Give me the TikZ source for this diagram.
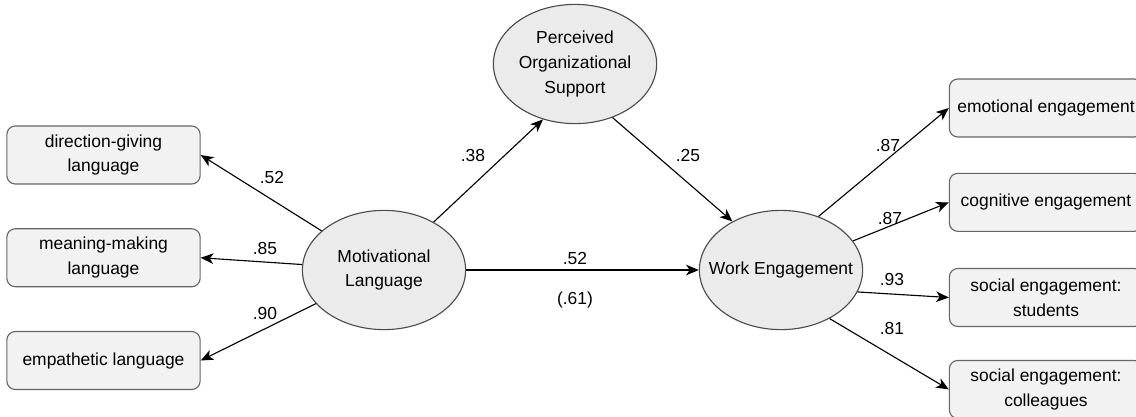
\documentclass[tikz,border=0pt]{standalone}
\usepackage{fontspec}
\setmainfont{Liberation Sans}
\usetikzlibrary{positioning}
\usetikzlibrary{shapes.geometric}
\usetikzlibrary{arrows.meta}

\begin{document}
\begin{tikzpicture}[x=0.025cm, y=-0.025cm,
		every node/.style={font=\fontsize{12.4}{17.7}\selectfont},
		latent/.style={draw=black!70, fill=black!8, ellipse, inner sep=0pt,
			minimum width=4.08cm, minimum height=2.98cm, align=center},
		indicator/.style={draw=black!60, fill=black!5, rounded corners=6pt,
			minimum width=4.83cm, minimum height=1.45cm, align=center},
		coef/.style={inner sep=1pt},
		>={Stealth[length=9pt, width=7.5pt, inset=2.5pt]},
		line width=0.8pt]
		\useasboundingbox (0,0) rectangle (1136,416);
		% latent variables
		\node [latent] (ml) at (384,270) {Motivational\\Language};
		\node [latent] (pos) at (575,64) {Perceived\\Organizational\\Support};
		\node [latent, inner xsep=-11pt] (we) at (781,270) {Work Engagement};
		% indicators of motivational language
		\node [indicator] (dir) at (103.5,155) {direction-giving\\language};
		\node [indicator, below=1.09cm of dir] (mean) {meaning-making\\language};
		\node [indicator, below=1.09cm of mean] (emp) {empathetic language};
		% indicators of work engagement
		\node [indicator] (emo) at (1046,108) {emotional engagement};
		\node [indicator, below=0.88cm of emo] (cog) {cognitive engagement};
		\node [indicator, below=0.9cm of cog] (stu) {social engagement:\\students};
		\node [indicator, below=0.82cm of stu] (col) {social engagement:\\colleagues};
		% coefficients
		\node [coef] (l1) at (272,177) {.52};
		\node [coef] (l2) at (265,248) {.85};
		\node [coef] (l3) at (265,313) {.90};
		\node [coef] (a) at (473,155) {.38};
		\node [coef] (b) at (688,155) {.25};
		\node [coef] (c) at (575,258) {.52};
		\node [coef] (ctot) at (575,300) {(.61)};
		\node [coef] (r1) at (888,145) {.87};
		\node [coef] (r2) at (890,218) {.87};
		\node [coef] (r3) at (892,279) {.93};
		\node [coef] (r4) at (892,328) {.81};
		\path [->]
			(ml) edge [] (dir.east)
			(ml) edge [] (mean.east)
			(ml) edge [] (emp.east)
			(ml.44) edge [] (pos.240)
			(pos.305) edge [] (we.135)
			(ml) edge [] (we)
			(we.55) edge [] (emo.west)
			(we.22) edge [] (cog.west)
			(we.-16) edge [] (stu.west)
			(we.-45) edge [] (col.west);
	\end{tikzpicture}
\end{document}
